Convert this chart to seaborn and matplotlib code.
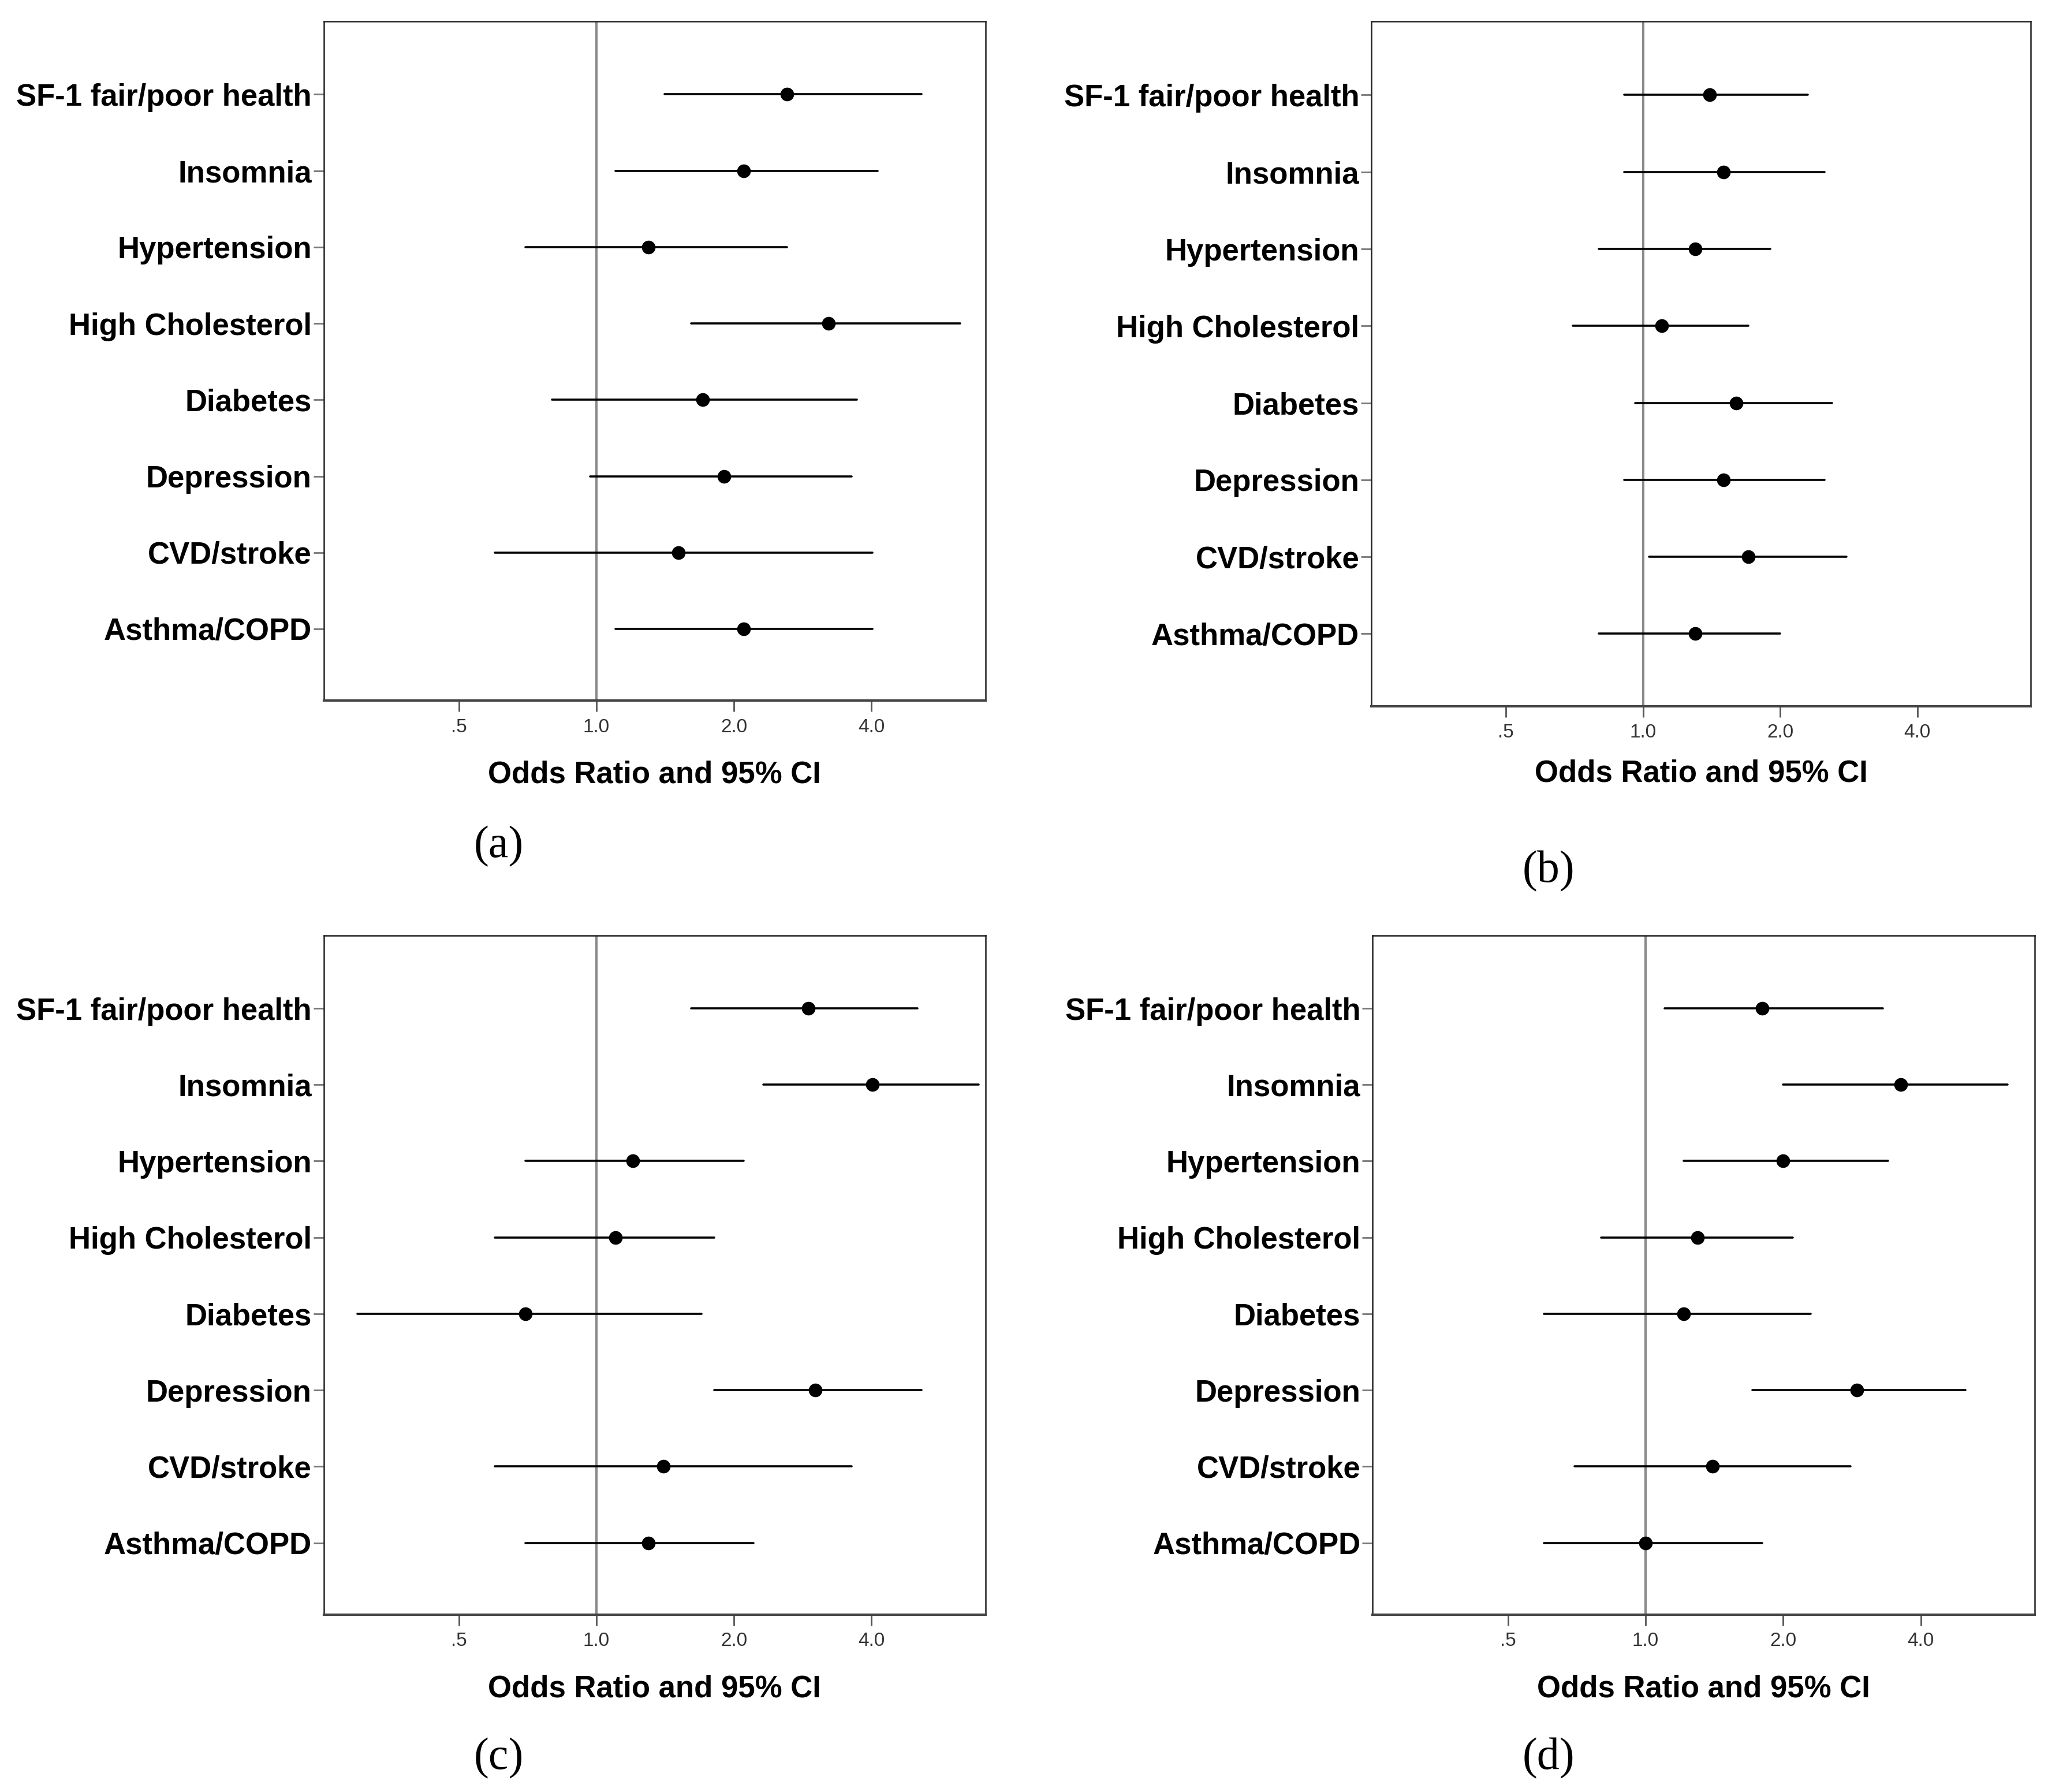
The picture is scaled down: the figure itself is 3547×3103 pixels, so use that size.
import matplotlib
matplotlib.use('Agg')
import matplotlib.pyplot as plt
import pandas as pd
import seaborn as sns
from matplotlib.ticker import NullLocator

conditions = ['SF-1 fair/poor health', 'Insomnia', 'Hypertension', 'High Cholesterol',
              'Diabetes', 'Depression', 'CVD/stroke', 'Asthma/COPD']

# odds ratio, lower and upper 95% CI for each panel
or_a = [2.61, 2.10, 1.30, 3.22, 1.71, 1.90, 1.51, 2.10]
lo_a = [1.41, 1.10, 0.70, 1.61, 0.80, 0.97, 0.60, 1.10]
hi_a = [5.14, 4.12, 2.61, 6.25, 3.72, 3.62, 4.02, 4.02]

or_b = [1.40, 1.50, 1.30, 1.10, 1.60, 1.50, 1.70, 1.30]
lo_b = [0.91, 0.91, 0.80, 0.70, 0.96, 0.91, 1.03, 0.80]
hi_b = [2.30, 2.50, 1.90, 1.70, 2.60, 2.50, 2.80, 2.00]

or_c = [2.91, 4.02, 1.20, 1.10, 0.70, 3.01, 1.40, 1.30]
lo_c = [1.61, 2.32, 0.70, 0.60, 0.30, 1.81, 0.60, 0.70]
hi_c = [5.04, 6.87, 2.10, 1.81, 1.70, 5.14, 3.62, 2.21]

or_d = [1.80, 3.61, 2.00, 1.30, 1.21, 2.90, 1.40, 1.00]
lo_d = [1.10, 2.00, 1.21, 0.80, 0.60, 1.71, 0.70, 0.60]
hi_d = [3.30, 6.19, 3.39, 2.10, 2.30, 5.00, 2.81, 1.80]

tick_vals = [0.5, 1.0, 2.0, 4.0]
tick_labels = ['.5', '1.0', '2.0', '4.0']
panel_names = ['(a)', '(b)', '(c)', '(d)']


def long_table(ors, los, his):
    '''
    one row per bound so that median = OR and full range = CI
    '''
    rows = []
    for c, o, l, h in zip(conditions, ors, los, his):
        for v in (l, o, h):
            rows.append({'condition': c, 'value': v})
    return pd.DataFrame(rows)


sns.set_style('white')
plt.rcParams['font.family'] = ['Liberation Sans', 'DejaVu Sans']
plt.rcParams['text.color'] = 'black'

fig = plt.figure(figsize=(35.48, 31.03), dpi=100)

boxes = [[0.158, 0.609, 0.323, 0.379],
         [0.6694, 0.606, 0.3219, 0.382],
         [0.158, 0.099, 0.323, 0.379],
         [0.670, 0.099, 0.3233, 0.379]]
letter_pos = [(0.2435, 0.5276), (0.756, 0.5137), (0.2435, 0.019), (0.756, 0.019)]
label_pads = [30, 22, 30, 30]
data = [(or_a, lo_a, hi_a), (or_b, lo_b, hi_b), (or_c, lo_c, hi_c), (or_d, lo_d, hi_d)]

for box, (ors, los, his), name, lp, pad in zip(boxes, data, panel_names, letter_pos, label_pads):
    ax = fig.add_axes(box)
    ax.set_xscale('log', base=2)
    ax.axvline(1.0, color='#8a8a8a', lw=2.9, zorder=0)
    df = long_table(ors, los, his)
    sns.pointplot(data=df, x='value', y='condition', order=conditions,
                  estimator='median', errorbar=('pi', 100), color='black',
                  linestyle='none', markersize=15, capsize=0,
                  err_kws={'linewidth': 2.6, 'color': 'black'}, ax=ax)
    ax.set_xlim(0.253, 7.1)
    ax.set_ylim(7.94, -0.955)
    ax.set_xticks(tick_vals)
    ax.set_xticklabels(tick_labels, fontsize=24, color='#333333')
    ax.xaxis.set_minor_locator(NullLocator())
    ax.set_yticks(range(len(conditions)))
    ax.set_yticklabels(conditions, fontsize=38, fontweight='bold', color='black')
    ax.tick_params(axis='x', length=14, width=2, color='#555555', pad=8, bottom=True)
    ax.tick_params(axis='y', length=13, width=2, color='#777777', pad=2, left=True)
    ax.set_ylabel('')
    ax.set_xlabel('Odds Ratio and 95% CI', fontsize=38, fontweight='bold',
                  color='black', labelpad=pad)
    for s in ax.spines.values():
        s.set_visible(True)
        s.set_color('#222222')
        s.set_linewidth(1.8)
    ax.spines['bottom'].set_color('#444444')
    ax.spines['bottom'].set_linewidth(3.0)
    fig.text(lp[0], lp[1], name, fontsize=56, family='Liberation Serif',
             ha='center', va='center', color='black')

fig.savefig('out.png', dpi=100, facecolor='white')
